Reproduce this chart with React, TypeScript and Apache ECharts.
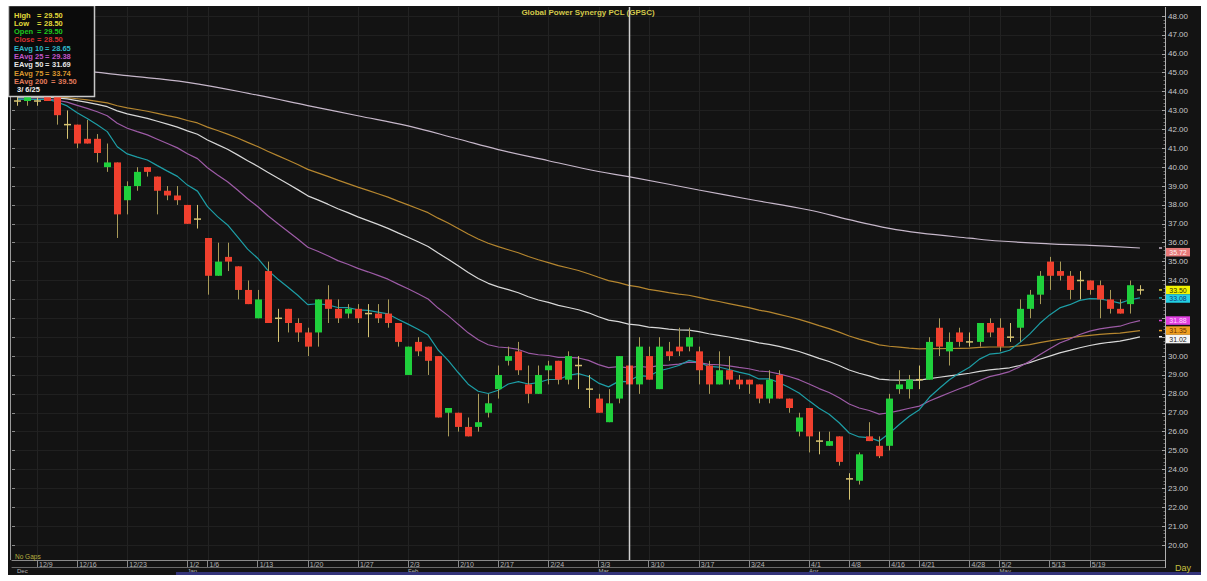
import React, { useEffect, useRef } from "react";
import * as echarts from "echarts";

// ---------------- data ----------------
const dates = [
  "12/4","12/6","12/9","12/11","12/12","12/13","12/16","12/17","12/18","12/19",
  "12/20","12/23","12/24","12/25","12/26","12/27","12/30","1/2","1/3","1/6",
  "1/7","1/8","1/9","1/10","1/13","1/14","1/15","1/16","1/17","1/20",
  "1/21","1/22","1/23","1/24","1/27","1/28","1/29","1/30","1/31","2/3",
  "2/4","2/5","2/6","2/7","2/10","2/11","2/13","2/14","2/17","2/18",
  "2/19","2/20","2/21","2/24","2/25","2/26","2/27","2/28","3/3","3/4",
  "3/5","3/6","3/7","3/10","3/11","3/12","3/13","3/14","3/17","3/18",
  "3/19","3/20","3/21","3/24","3/25","3/26","3/27","3/28","3/31","4/1",
  "4/2","4/3","4/4","4/8","4/9","4/10","4/11","4/16","4/17","4/18",
  "4/21","4/22","4/23","4/24","4/25","4/28","4/29","4/30","5/2","5/6",
  "5/7","5/8","5/9","5/13","5/14","5/15","5/16","5/19","5/20","5/21",
  "5/22","5/23","5/26"
];
const padDates = ["5/27", "5/28"];

const opens = [
  43.5, 43.5, 43.5, 43.75, 43.75, 42.25, 42.25, 41.5, 41.5, 40.0,
  40.25, 38.25, 39.0, 40.0, 39.5, 38.75, 38.5, 38.0, 37.25, 36.25,
  34.25, 35.25, 34.75, 33.5, 32.0, 34.5, 32.0, 32.5, 31.75, 31.25,
  31.25, 33.0, 32.5, 32.25, 32.5, 32.25, 32.25, 32.25, 31.75, 29.0,
  30.75, 30.5, 30.0, 27.0, 27.0, 26.25, 26.25, 27.0, 28.25, 29.75,
  30.25, 28.5, 28.0, 29.25, 29.75, 28.75, 29.5, 28.25, 27.75, 26.5,
  27.75, 29.5, 28.5, 30.0, 28.25, 30.25, 30.5, 30.5, 30.25, 29.5,
  28.5, 29.25, 28.75, 28.75, 28.5, 27.75, 29.0, 27.75, 26.0, 27.25,
  25.5, 25.25, 25.75, 23.5, 23.4, 25.75, 25.25, 25.25, 28.25, 28.25,
  28.75, 28.75, 31.5, 30.25, 31.25, 30.75, 30.75, 31.75, 31.5, 31.0,
  31.5, 32.5, 33.25, 35.0, 34.5, 34.25, 34.0, 34.0, 33.75, 33.0,
  32.5, 32.75, 33.5
];
const closes = [
  43.5, 43.75, 43.5, 43.5, 42.75, 42.25, 41.25, 41.25, 40.75, 40.25,
  37.5, 39.0, 39.75, 39.75, 38.75, 38.5, 38.25, 37.0, 37.25, 34.25,
  35.0, 35.0, 33.5, 32.75, 33.0, 31.75, 32.0, 31.75, 31.25, 30.5,
  33.0, 32.5, 32.0, 32.5, 32.0, 32.25, 32.0, 31.75, 30.75, 30.5,
  30.25, 29.75, 26.75, 27.25, 26.25, 25.75, 26.5, 27.5, 29.0, 30.0,
  29.25, 28.0, 29.0, 29.5, 28.75, 30.0, 29.5, 28.25, 27.0, 27.5,
  30.0, 28.5, 30.5, 28.75, 30.5, 30.0, 30.25, 31.0, 29.25, 28.5,
  29.25, 28.75, 28.5, 28.5, 27.75, 28.75, 27.75, 27.25, 26.75, 25.75,
  25.5, 25.5, 24.4, 23.5, 24.8, 25.5, 24.7, 27.75, 28.5, 28.75,
  28.75, 30.75, 30.5, 30.75, 30.75, 30.75, 31.75, 31.25, 30.5, 31.0,
  32.5, 33.25, 34.25, 34.25, 34.25, 33.5, 34.0, 33.5, 33.0, 32.5,
  32.25, 33.75, 33.5
];
const highs = [
  43.75, 43.75, 43.75, 43.75, 43.75, 43.0, 42.25, 42.5, 41.75, 41.25,
  40.25, 39.25, 40.0, 40.0, 39.5, 39.0, 39.0, 38.0, 38.0, 36.25,
  36.0, 36.0, 34.75, 34.0, 33.5, 35.0, 32.5, 32.5, 32.0, 31.5,
  33.0, 33.75, 33.0, 32.75, 32.75, 32.75, 32.75, 33.0, 31.75, 30.5,
  31.0, 30.5, 30.0, 27.25, 27.0, 26.75, 28.0, 28.0, 29.5, 30.5,
  30.75, 29.5, 29.5, 29.75, 29.75, 30.25, 30.0, 29.0, 28.0, 28.25,
  30.0, 29.5, 31.0, 30.5, 31.0, 30.75, 31.5, 31.5, 30.5, 29.75,
  30.25, 30.0, 29.0, 28.75, 28.5, 29.25, 29.25, 27.75, 27.0, 27.25,
  26.0, 26.0, 25.75, 23.8, 24.9, 26.5, 25.75, 28.0, 29.25, 29.0,
  29.5, 31.0, 32.0, 31.25, 31.5, 31.25, 31.75, 32.0, 32.0, 31.75,
  33.0, 33.5, 34.5, 35.25, 35.0, 34.5, 34.5, 34.0, 34.0, 33.5,
  33.0, 34.0, 33.75
];
const lows = [
  43.25, 43.25, 43.25, 43.5, 42.25, 41.5, 41.0, 41.25, 40.25, 39.75,
  36.25, 37.5, 38.75, 39.5, 37.5, 38.25, 38.0, 37.0, 36.75, 33.25,
  34.25, 34.5, 33.0, 32.75, 32.0, 31.75, 30.75, 31.25, 30.75, 30.0,
  30.5, 31.75, 31.75, 32.0, 31.75, 31.0, 31.75, 31.5, 30.5, 29.0,
  30.0, 29.0, 26.75, 25.75, 26.0, 25.75, 26.0, 26.75, 27.75, 29.5,
  29.0, 27.5, 28.0, 28.5, 28.5, 28.5, 28.25, 27.25, 27.0, 26.5,
  27.5, 28.5, 28.0, 28.75, 28.25, 29.75, 30.0, 30.25, 28.5, 28.0,
  28.5, 28.5, 28.25, 28.0, 27.5, 27.5, 27.75, 27.0, 25.75, 24.9,
  24.8, 25.25, 24.2, 22.4, 23.2, 25.5, 24.6, 25.0, 28.0, 27.75,
  28.25, 28.75, 30.0, 29.5, 30.5, 30.5, 30.5, 31.0, 30.25, 30.75,
  30.75, 32.0, 32.75, 33.5, 34.0, 33.0, 33.0, 33.25, 32.0, 32.25,
  32.25, 32.25, 33.25
];

const ema10 = [
  43.6, 43.6, 43.58, 43.6, 43.45, 43.24, 42.88, 42.58, 42.24, 41.88,
  41.08, 40.7, 40.53, 40.38, 40.08, 39.79, 39.51, 39.05, 38.73, 37.91,
  37.38, 36.94, 36.31, 35.66, 35.18, 34.55, 34.08, 33.66, 33.22, 32.72,
  32.77, 32.71, 32.57, 32.56, 32.45, 32.42, 32.33, 32.23, 31.95, 31.69,
  31.42, 31.11, 30.32, 29.77, 29.13, 28.51, 28.14, 28.02, 28.19, 28.52,
  28.65, 28.52, 28.6, 28.76, 28.76, 28.98, 29.07, 28.92, 28.57, 28.37,
  28.66, 28.65, 28.97, 28.93, 29.21, 29.34, 29.5, 29.77, 29.67, 29.45,
  29.42, 29.29, 29.15, 29.03, 28.79, 28.79, 28.6, 28.34, 28.05, 27.63,
  27.24, 26.92, 26.47, 25.93, 25.72, 25.68, 25.5, 25.91, 26.38, 26.81,
  27.16, 27.82, 28.3, 28.75, 29.1, 29.41, 29.84, 30.1, 30.16, 30.31,
  30.7, 31.16, 31.72, 32.18, 32.55, 32.72, 32.95, 33.04, 33.03, 32.93,
  32.8, 32.98, 33.08
];
const ema25 = [
  43.6, 43.6, 43.6, 43.6, 43.54, 43.44, 43.27, 43.11, 42.93, 42.72,
  42.32, 42.06, 41.88, 41.71, 41.48, 41.25, 41.02, 40.71, 40.45, 39.97,
  39.59, 39.23, 38.79, 38.33, 37.92, 37.44, 37.02, 36.61, 36.2, 35.76,
  35.55, 35.31, 35.05, 34.86, 34.64, 34.46, 34.27, 34.07, 33.81, 33.56,
  33.3, 33.02, 32.54, 32.14, 31.68, 31.23, 30.86, 30.6, 30.48, 30.44,
  30.35, 30.16, 30.07, 30.03, 29.93, 29.93, 29.9, 29.77, 29.55, 29.39,
  29.44, 29.38, 29.46, 29.4, 29.49, 29.52, 29.57, 29.68, 29.65, 29.56,
  29.54, 29.48, 29.4, 29.33, 29.21, 29.17, 29.06, 28.92, 28.75, 28.52,
  28.28, 28.07, 27.79, 27.46, 27.25, 27.12, 26.93, 27.0, 27.11, 27.24,
  27.35, 27.62, 27.84, 28.06, 28.27, 28.46, 28.71, 28.91, 29.03, 29.18,
  29.43, 29.72, 30.07, 30.39, 30.69, 30.9, 31.14, 31.32, 31.44, 31.52,
  31.58, 31.75, 31.88
];
const ema50 = [
  43.7, 43.7, 43.7, 43.7, 43.66, 43.61, 43.52, 43.43, 43.32, 43.2,
  42.98, 42.82, 42.7, 42.58, 42.43, 42.28, 42.12, 41.92, 41.74, 41.44,
  41.19, 40.95, 40.65, 40.34, 40.05, 39.73, 39.42, 39.12, 38.81, 38.48,
  38.27, 38.04, 37.8, 37.59, 37.37, 37.17, 36.97, 36.76, 36.52, 36.29,
  36.05, 35.8, 35.45, 35.13, 34.78, 34.42, 34.11, 33.85, 33.66, 33.52,
  33.35, 33.14, 32.97, 32.84, 32.68, 32.57, 32.45, 32.29, 32.08, 31.9,
  31.82, 31.69, 31.64, 31.53, 31.49, 31.43, 31.38, 31.37, 31.29, 31.18,
  31.1, 31.01, 30.91, 30.82, 30.7, 30.62, 30.51, 30.38, 30.24, 30.06,
  29.88, 29.71, 29.5, 29.26, 29.09, 28.95, 28.78, 28.74, 28.73, 28.73,
  28.73, 28.81, 28.88, 28.95, 29.02, 29.09, 29.19, 29.27, 29.32, 29.38,
  29.5, 29.65, 29.83, 30.0, 30.17, 30.3, 30.44, 30.56, 30.66, 30.73,
  30.79, 30.9, 31.02
];
const ema75 = [
  43.75, 43.75, 43.75, 43.75, 43.72, 43.68, 43.62, 43.56, 43.48, 43.4,
  43.25, 43.14, 43.05, 42.96, 42.85, 42.73, 42.62, 42.47, 42.34, 42.12,
  41.94, 41.75, 41.54, 41.31, 41.09, 40.84, 40.61, 40.38, 40.14, 39.88,
  39.7, 39.51, 39.31, 39.13, 38.94, 38.77, 38.59, 38.41, 38.2, 38.0,
  37.8, 37.59, 37.3, 37.04, 36.75, 36.46, 36.2, 35.97, 35.79, 35.63,
  35.47, 35.27, 35.1, 34.95, 34.79, 34.66, 34.53, 34.36, 34.17, 33.99,
  33.89, 33.74, 33.66, 33.53, 33.45, 33.36, 33.28, 33.22, 33.11, 32.99,
  32.89, 32.78, 32.67, 32.56, 32.43, 32.34, 32.21, 32.08, 31.94, 31.78,
  31.61, 31.45, 31.27, 31.06, 30.9, 30.75, 30.59, 30.52, 30.47, 30.42,
  30.38, 30.39, 30.39, 30.4, 30.41, 30.42, 30.46, 30.48, 30.48, 30.49,
  30.54, 30.61, 30.71, 30.8, 30.89, 30.96, 31.04, 31.1, 31.15, 31.19,
  31.21, 31.28, 31.35
];
const ema200Points: [number, number][] = [
  [0, 45.25], [3, 45.2], [6, 45.12], [11, 44.84], [17, 44.49], [24, 43.81],
  [29, 43.26], [34, 42.72], [39, 42.18], [44, 41.49], [48, 40.93], [53, 40.34],
  [58, 39.77], [61, 39.5], [68, 38.79], [73, 38.3], [79, 37.73], [83, 37.22],
  [87, 36.76], [90, 36.52], [95, 36.24], [98, 36.09], [103, 35.94], [107, 35.86],
  [112, 35.72]
];

const weekLabels = [
  "12/9","12/16","12/23","1/2","1/6","1/13","1/20","1/27","2/3","2/10","2/17","2/24",
  "3/3","3/10","3/17","3/24","4/1","4/8","4/16","4/21","4/28","5/2","5/13","5/19"
];
const monthLabels: Record<string, string> = {
  "12/4": "Dec", "1/2": "Jan", "2/3": "Feb", "3/3": "Mar", "4/1": "Apr", "5/2": "May"
};
const cursorDate = "3/6";
const cursorLabel = "3/ 6/25";
const chartTitle = "Global Power Synergy PCL (GPSC)";

// ---------------- styling ----------------
const FONT = '"Liberation Sans", Arial, sans-serif';
const BG = "#131313";
const GREEN = "#1fd03c";
const RED = "#f0402e";
const WICK = "#a89a58";
const DOJI = "#d6c472";
const C10 = "#1d9ea6";
const C25 = "#9d5ba6";
const C50 = "#d8d8d8";
const C75 = "#b5862f";
const C200 = "#c6b7ca";

const W = 1193;
const H = 569;
const GRID_LEFT = 4;
const GRID_RIGHT = 36;
const GRID_TOP = 10;
const GRID_BOTTOM = 30;
const PLOT_TOP = 1;
const PLOT_BOTTOM = 554;
const Y_MIN = 20;
const Y_MAX = 48;

export default function App() {
  const ref = useRef<HTMLDivElement>(null);

  useEffect(() => {
    const el = ref.current;
    if (!el) return;
    const chart = echarts.init(el, null, { renderer: "svg" });
    const cats = [...dates, ...padDates];
    const weekSet = new Set(weekLabels);
    const candleData = dates.map((_, i) => [i, opens[i], closes[i], lows[i], highs[i]]);

    const last = dates.length - 1;
    const tags = [
      { v: ema200Points[ema200Points.length - 1][1], bg: "#e87a7a", fg: "#fff0f0", mark: C200 },
      { v: closes[last], bg: "#f2f200", fg: "#333300", mark: "#e0d040" },
      { v: ema10[last], bg: "#22d0e4", fg: "#173a7a", mark: C10 },
      { v: ema25[last], bg: "#e040e0", fg: "#ffd8ff", mark: "#e040e0" },
      { v: ema75[last], bg: "#f0a020", fg: "#6a3000", mark: "#f0a020" },
      { v: ema50[last], bg: "#f4f4f4", fg: "#222222", mark: "#f4f4f4" },
    ];
    // axis labels sitting right under a price tag are hidden, as in the reference
    const coveredLabel = (v: number) => tags.some((t) => Math.abs(t.v - v) < 0.2);

    const option: any = {
      animation: false,
      backgroundColor: BG,
      grid: { left: GRID_LEFT, right: GRID_RIGHT, top: GRID_TOP, bottom: GRID_BOTTOM, containLabel: false },
      xAxis: [
        {
          type: "category",
          data: cats,
          boundaryGap: true,
          position: "bottom",
          offset: 15,
          axisLine: { show: true, lineStyle: { color: "#8a8a8a", width: 1 } },
          axisTick: {
            show: true,
            alignWithLabel: true,
            interval: (i: number, v: string) => weekSet.has(v),
            length: 7,
            lineStyle: { color: "#8a8a8a" },
          },
          axisLabel: {
            show: true,
            interval: (i: number, v: string) => weekSet.has(v),
            color: "#b4b4b4",
            fontSize: 7,
            fontFamily: FONT,
            align: "left",
            margin: 1,
            padding: [0, 0, 0, 2],
          },
          splitLine: { show: false },
        },
        {
          type: "category",
          data: cats,
          boundaryGap: true,
          position: "bottom",
          offset: 22,
          axisLine: { show: true, lineStyle: { color: "#6a6a6a", width: 1 } },
          axisTick: { show: false },
          axisLabel: {
            show: true,
            interval: (i: number, v: string) => v in monthLabels,
            formatter: (v: string) => monthLabels[v] || "",
            color: "#b4b4b4",
            fontSize: 6,
            fontFamily: FONT,
            align: "left",
            margin: 1,
          },
          splitLine: { show: false },
        },
      ],
      yAxis: [
        {
          type: "value",
          position: "right",
          min: Y_MIN,
          max: Y_MAX,
          interval: 1,
          axisLine: { show: false },
          axisTick: { show: true, inside: true, length: 3, lineStyle: { color: "#a0a0a0" } },
          minorTick: { show: true, splitNumber: 5, length: 1.5, lineStyle: { color: "#707070" } },
          axisLabel: {
            color: "#c8c8c8",
            fontSize: 8,
            fontFamily: FONT,
            margin: 3,
            formatter: (v: number) => (coveredLabel(v) ? "" : v.toFixed(2)),
          },
          splitLine: { show: true, lineStyle: { color: "#202020", width: 1 } },
        },
        {
          type: "value",
          position: "left",
          min: Y_MIN,
          max: Y_MAX,
          interval: 1,
          axisLine: { show: false },
          axisTick: { show: true, inside: true, length: 3, lineStyle: { color: "#8a8a8a" } },
          axisLabel: { show: false },
          splitLine: { show: false },
        },
      ],
      series: [
        {
          name: "EAvg 200",
          type: "line",
          data: ema200Points,
          smooth: 0.4,
          connectNulls: true,
          symbol: "none",
          lineStyle: { color: C200, width: 1.2 },
          z: 2,
        },
        { name: "EAvg 75", type: "line", data: ema75, symbol: "none", lineStyle: { color: C75, width: 1.2 }, z: 2 },
        { name: "EAvg 50", type: "line", data: ema50, symbol: "none", lineStyle: { color: C50, width: 1.2 }, z: 2 },
        { name: "EAvg 25", type: "line", data: ema25, symbol: "none", lineStyle: { color: C25, width: 1.2 }, z: 2 },
        { name: "EAvg 10", type: "line", data: ema10, symbol: "none", lineStyle: { color: C10, width: 1.2 }, z: 2 },
        {
          name: "GPSC",
          type: "custom",
          data: candleData,
          encode: { x: 0, y: [1, 2, 3, 4] },
          z: 3,
          renderItem: (params: any, api: any) => {
            const i = api.value(0);
            const o = api.value(1);
            const c = api.value(2);
            const l = api.value(3);
            const h = api.value(4);
            const pO = api.coord([i, o]);
            const pC = api.coord([i, c]);
            const pL = api.coord([i, l]);
            const pH = api.coord([i, h]);
            const band = api.size([1, 0])[0];
            const bw = Math.max(3, Math.round(band * 0.68));
            const x = Math.round(pO[0]) + 0.5;
            const doji = o === c;
            const children: any[] = [
              {
                type: "line",
                shape: { x1: x, y1: pH[1], x2: x, y2: pL[1] },
                style: { stroke: doji ? DOJI : WICK, lineWidth: 1 },
              },
            ];
            if (doji) {
              children.push({
                type: "line",
                shape: { x1: x - bw / 2, y1: pO[1], x2: x + bw / 2, y2: pO[1] },
                style: { stroke: DOJI, lineWidth: 1.5 },
              });
            } else {
              const top = Math.min(pO[1], pC[1]);
              const hh = Math.max(Math.abs(pO[1] - pC[1]), 1);
              children.push({
                type: "rect",
                shape: { x: x - bw / 2, y: top, width: bw, height: hh },
                style: { fill: c > o ? GREEN : RED },
              });
            }
            return { type: "group", children };
          },
        },
      ],
    };
    chart.setOption(option);

    // ---- overlays computed through the chart's own scales ----
    const px = (i: number) => chart.convertToPixel({ xAxisIndex: 0 }, i) as number;
    const py = (v: number) => chart.convertToPixel({ yAxisIndex: 0 }, v) as number;
    const gridRight = W - GRID_RIGHT;
    const els: any[] = [];

    const txt = (x: number, y: number, text: string, fill: string, size: number, bold = false, align = "left", z = 100) => ({
      type: "text",
      x,
      y,
      z,
      silent: true,
      style: {
        text,
        fill,
        font: `${bold ? "bold " : ""}${size}px ${FONT}`,
        textAlign: align,
        align,
        textVerticalAlign: "middle",
        verticalAlign: "middle",
      },
    });

    // vertical grid lines at week labels
    dates.forEach((d, i) => {
      if (weekSet.has(d)) {
        const x = Math.round(px(i)) + 0.5;
        els.push({
          type: "line",
          z: 0,
          silent: true,
          shape: { x1: x, y1: PLOT_TOP, x2: x, y2: PLOT_BOTTOM },
          style: { stroke: "#222222", lineWidth: 1 },
        });
      }
    });

    // left and right axis lines (full plot height)
    els.push({
      type: "line", z: 5, silent: true,
      shape: { x1: 2.5, y1: PLOT_TOP, x2: 2.5, y2: PLOT_BOTTOM },
      style: { stroke: "#9a9a9a", lineWidth: 1 },
    });
    els.push({
      type: "line", z: 5, silent: true,
      shape: { x1: gridRight + 0.5, y1: PLOT_TOP, x2: gridRight + 0.5, y2: H - 7 },
      style: { stroke: "#b0b0b0", lineWidth: 1 },
    });

    // crosshair at cursor date
    const ci = dates.indexOf(cursorDate);
    const cx = Math.round(px(ci)) + 0.5;
    els.push({
      type: "line", z: 50, silent: true,
      shape: { x1: cx, y1: PLOT_TOP, x2: cx, y2: PLOT_BOTTOM },
      style: { stroke: "#cfcfcf", lineWidth: 1.5 },
    });

    // bottom frame band
    els.push({ type: "rect", z: 5, silent: true, shape: { x: 168, y: H - 3, width: W - 168, height: 3 }, style: { fill: "#34347a" } });

    // title and misc texts
    els.push(txt(580, 6, chartTitle, "#d2c84a", 8, true, "center", 20));
    els.push(txt(7, 550, "No Gaps", "#b8b040", 6.5, false, "left", 20));
    els.push(txt(1175, 562, "Day", "#c8c040", 9, false, "center", 20));

    // legend box
    els.push({
      type: "rect", z: 99, silent: true,
      shape: { x: 0.5, y: -0.5, width: 86, height: 91 },
      style: { fill: "#0b0b0b", stroke: "#c8c8c8", lineWidth: 1.5 },
    });
    const e200AtCursor = (ema200Points.find((p) => p[0] === ci) || [ci, 0])[1];
    const rows = [
      { label: "High", value: highs[ci], color: "#e2da3a", eq: 29, val: 36 },
      { label: "Low", value: lows[ci], color: "#e2da3a", eq: 29, val: 36 },
      { label: "Open", value: opens[ci], color: "#1ec81e", eq: 29, val: 36 },
      { label: "Close", value: closes[ci], color: "#d63232", eq: 29, val: 36 },
      { label: "EAvg 10", value: ema10[ci], color: "#2fb8c8", eq: 37, val: 44 },
      { label: "EAvg 25", value: ema25[ci], color: "#c055c8", eq: 37, val: 44 },
      { label: "EAvg 50", value: ema50[ci], color: "#e6e6e6", eq: 37, val: 44 },
      { label: "EAvg 75", value: ema75[ci], color: "#d8962e", eq: 37, val: 44 },
      { label: "EAvg 200", value: e200AtCursor, color: "#e07a5a", eq: 43, val: 50 },
    ];
    rows.forEach((r, k) => {
      const y = 9 + k * 8.3;
      els.push(txt(6, y, r.label, r.color, 7.5, true));
      els.push(txt(r.eq, y, "=", r.color, 7.5, true));
      els.push(txt(r.val, y, r.value.toFixed(2), r.color, 7.5, true));
    });
    els.push(txt(9, 9 + 9 * 8.3, cursorLabel, "#f0f0f0", 7.5, true));

    // right-hand price tags (last values), nudged so that they do not collide
    const visibleLabelYs: number[] = [];
    for (let v = Y_MIN; v <= Y_MAX; v++) if (!coveredLabel(v)) visibleLabelYs.push(py(v));
    const placed = tags
      .map((t) => ({ ...t, y: py(t.v) }))
      .sort((a, b) => a.y - b.y);
    let prevY = -Infinity;
    placed.forEach((t) => {
      let y = Math.max(t.y, prevY + 8.5);
      visibleLabelYs.forEach((ly) => {
        if (ly <= y && y - ly < 9.5) y = ly + 9.5;
      });
      prevY = y;
      els.push({
        type: "rect", z: 90, silent: true,
        shape: { x: gridRight + 1, y: y - 4.25, width: 24, height: 8.5 },
        style: { fill: t.bg },
      });
      els.push(txt(gridRight + 13, y, t.v.toFixed(2), t.fg, 7, false, "center", 91));
      els.push({
        type: "line", z: 90, silent: true,
        shape: { x1: gridRight - 6, y1: t.y, x2: gridRight - 3, y2: t.y },
        style: { stroke: t.mark, lineWidth: 1.5 },
      });
    });

    chart.setOption({ graphic: { elements: els } });

    return () => {
      chart.dispose();
    };
  }, []);

  return (
    <div style={{ position: "fixed", left: 0, top: 0, width: 1207, height: 581, background: "#ffffff" }}>
      <div ref={ref} style={{ position: "absolute", left: 8, top: 6, width: W, height: H }} />
    </div>
  );
}
